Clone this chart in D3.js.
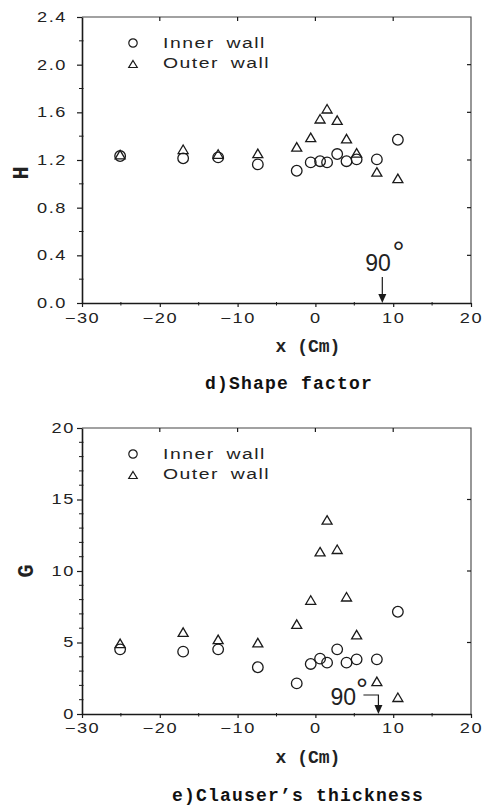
<!DOCTYPE html>
<html>
<head>
<meta charset="utf-8">
<script src="https://cdn.jsdelivr.net/npm/d3@7"></script>
<style>
  body { margin: 0; background: #fff; }
  svg { display: block; }
</style>
</head>
<body>
<svg id="chart" width="484" height="808"></svg>
<script>
// Streamwise stations (cm) shared by both walls
const xPositions = [-25.1, -17.0, -12.5, -7.4, -2.4, -0.6, 0.6, 1.5, 2.8, 4.0, 5.3, 7.9, 10.6];

// d) shape factor H
const shapeInner = [1.233, 1.214, 1.222, 1.163, 1.11, 1.18, 1.19, 1.18, 1.25, 1.19, 1.205, 1.205, 1.37];
const shapeOuter = [1.245, 1.29, 1.25, 1.256, 1.31, 1.39, 1.546, 1.63, 1.535, 1.38, 1.26, 1.10, 1.046];

// e) Clauser's thickness G
const clauserInner = [4.52, 4.36, 4.52, 3.27, 2.14, 3.5, 3.87, 3.59, 4.52, 3.59, 3.82, 3.82, 7.15];
const clauserOuter = [4.94, 5.73, 5.22, 4.99, 6.29, 7.97, 11.35, 13.57, 11.52, 8.2, 5.55, 2.28, 1.17];

// Axis ticks
const xTicks = [-30, -20, -10, 0, 10, 20];
const xMinorTicks = [-25, -15, -5, 5, 15];
const hTicks = [0, 0.4, 0.8, 1.2, 1.6, 2.0, 2.4];
const hMinorTicks = [0.2, 0.6, 1.0, 1.4, 1.8, 2.2];
const gTicks = [0, 5, 10, 15, 20];
const gMinorTicks = [1, 2, 3, 4, 6, 7, 8, 9, 11, 12, 13, 14, 16, 17, 18, 19];

// Texts
const legendLabels = ["Inner wall", "Outer wall"];
const panelTitles = ["d)Shape factor", "e)Clauser\u2019s thickness"];
const yAxisLabels = ["H", "G"];
const xAxisLabel = "x (Cm)";
const bendLabel = "90";
// 90-degree bend location on each panel (cm)
const bendX = [8.6, 8.1];

const svg = d3.select("#chart");
const INK = "#1a1a1a";
const x = d3.scaleLinear().domain([-30, 20]).range([82, 471]);

const triPath = (w, h) => `M0,${-h / 2}L${w / 2},${h / 2}L${-w / 2},${h / 2}Z`;

function drawPanel(p) {
  const y = d3.scaleLinear().domain(p.domain).range([p.bottom, p.top]);
  const g = svg.append("g");
  const [x0, x1] = x.range();

  // frame: top and right edges
  g.append("path")
    .attr("d", `M${x0},${p.top}H${x1}V${p.bottom}`)
    .attr("fill", "none").attr("stroke", "#444").attr("stroke-width", 1.1);

  // left axis
  const left = g.append("g").attr("transform", `translate(${x0},0)`)
    .call(d3.axisLeft(y).tickValues(p.ticks).tickFormat(p.fmt)
      .tickSize(5).tickSizeOuter(0).tickPadding(p.pad));
  // bottom axis
  const bottom = g.append("g").attr("transform", `translate(0,${p.bottom})`)
    .call(d3.axisBottom(x).tickValues(xTicks).tickFormat(d => d < 0 ? "\u2212" + Math.abs(d) : d)
      .tickSize(4).tickSizeOuter(0).tickPadding(p.xpad));

  [left, bottom].forEach(ax => {
    ax.select(".domain").attr("stroke", INK).attr("stroke-width", 1.6);
    ax.selectAll(".tick line").attr("stroke", INK).attr("stroke-width", 1.2);
    ax.selectAll(".tick text")
      .attr("font-family", "'Liberation Sans', Arial, sans-serif")
      .attr("font-size", 14).attr("fill", "#222")
      .attr("letter-spacing", 1.2)
      .attr("transform", "scale(1.3,1)");
  });

  // minor ticks
  g.append("g").selectAll("line").data(p.minor).join("line")
    .attr("x1", x0 - 3).attr("x2", x0 + 1.5)
    .attr("y1", d => y(d)).attr("y2", d => y(d))
    .attr("stroke", INK).attr("stroke-width", 1);
  g.append("g").selectAll("line").data(xMinorTicks).join("line")
    .attr("x1", d => x(d)).attr("x2", d => x(d))
    .attr("y1", p.bottom - 1).attr("y2", p.bottom + 2.5)
    .attr("stroke", INK).attr("stroke-width", 1);
  // inward ticks on right and top edges
  g.append("g").selectAll("line").data(p.ticks.slice(1, -1)).join("line")
    .attr("x1", x1 - 4).attr("x2", x1)
    .attr("y1", d => y(d)).attr("y2", d => y(d))
    .attr("stroke", INK).attr("stroke-width", 1.2);
  g.append("g").selectAll("line").data(xTicks.slice(1, -1)).join("line")
    .attr("x1", d => x(d)).attr("x2", d => x(d))
    .attr("y1", p.top).attr("y2", p.top + 4)
    .attr("stroke", INK).attr("stroke-width", 1.2);

  // data: inner wall circles
  g.append("g").selectAll("circle").data(xPositions.map((d, i) => [d, p.inner[i]])).join("circle")
    .attr("cx", d => x(d[0])).attr("cy", d => y(d[1])).attr("r", 5.3)
    .attr("fill", "none").attr("stroke", INK).attr("stroke-width", 1.3);
  // data: outer wall triangles
  g.append("g").selectAll("path").data(xPositions.map((d, i) => [d, p.outer[i]])).join("path")
    .attr("transform", d => `translate(${x(d[0])},${y(d[1])})`)
    .attr("d", triPath(10, 8.5))
    .attr("fill", "none").attr("stroke", INK).attr("stroke-width", 1.3)
    .attr("stroke-linejoin", "miter");

  // legend
  const lg = g.append("g").attr("transform", `translate(${x0 + 51},${p.top + 26})`);
  lg.append("circle").attr("cx", 0).attr("cy", 0).attr("r", 4.2)
    .attr("fill", "none").attr("stroke", INK).attr("stroke-width", 1.2);
  lg.append("path").attr("transform", "translate(0,21)").attr("d", triPath(8.5, 7))
    .attr("fill", "none").attr("stroke", INK).attr("stroke-width", 1.2);
  lg.selectAll("text").data(legendLabels).join("text")
    .attr("transform", (d, i) => `translate(30,${i * 20 + 5}) scale(1.25,1)`)
    .attr("font-family", "'Liberation Sans', Arial, sans-serif")
    .attr("font-size", 15.5).attr("letter-spacing", 1.2).attr("word-spacing", 4)
    .attr("fill", "#222")
    .text(d => d);

  // 90-degree bend marker
  const bx = x(p.bend);
  const by = y(p.domain[0]);
  g.append("path")
    .attr("d", p.hook ? `M${bx - 15},${by - 19}H${bx}V${by - 8}` : `M${bx},${by - 26}V${by - 8}`)
    .attr("fill", "none").attr("stroke", INK).attr("stroke-width", 1.2);
  g.append("path")
    .attr("d", `M${bx - 4},${by - 9}L${bx + 4},${by - 9}L${bx},${by}Z`)
    .attr("fill", INK);
  const bl = g.append("text")
    .attr("x", bx + p.labelDx).attr("y", by + p.labelDy)
    .attr("font-family", "'Liberation Sans', Arial, sans-serif")
    .attr("font-size", 23).attr("fill", "#222");
  bl.append("tspan").text(bendLabel);
  bl.append("tspan")
    .attr("dx", p.degDx).attr("dy", p.degDy)
    .attr("font-size", 30)
    .text("\u00b0");

  // axis titles
  g.append("text")
    .attr("x", 308).attr("y", p.bottom + 49)
    .attr("text-anchor", "middle")
    .attr("font-family", "'Liberation Mono', 'Courier New', monospace")
    .attr("font-size", 18).attr("font-weight", "bold").attr("fill", "#222")
    .text(xAxisLabel);
  g.append("text")
    .attr("transform", `translate(${p.ylx},${p.yly}) rotate(-90)`)
    .attr("text-anchor", "middle").attr("dy", "0.35em")
    .attr("font-family", "'Liberation Mono', 'Courier New', monospace")
    .attr("font-size", 22).attr("font-weight", "bold").attr("fill", "#222")
    .text(p.ylabel);

  // panel caption
  g.append("text")
    .attr("x", p.titleX).attr("y", p.titleY)
    .attr("text-anchor", "middle")
    .attr("font-family", "'Liberation Mono', 'Courier New', monospace")
    .attr("font-size", 18).attr("font-weight", "bold").attr("letter-spacing", 1.2).attr("fill", "#111")
    .text(p.title);
}

drawPanel({
  domain: [0, 2.4], top: 17, bottom: 303,
  ticks: hTicks, minor: hMinorTicks, fmt: d3.format(".1f"), pad: 6.5, xpad: 6,
  inner: shapeInner, outer: shapeOuter,
  bend: bendX[0], hook: false, labelDx: -17, labelDy: -32, degDx: 1.5, degDy: -9,
  ylabel: yAxisLabels[0], ylx: 20, yly: 173,
  title: panelTitles[0], titleX: 289, titleY: 389
});

drawPanel({
  domain: [0, 20], top: 428, bottom: 714,
  ticks: gTicks, minor: gMinorTicks, fmt: d3.format("d"), pad: 0.5, xpad: 5,
  inner: clauserInner, outer: clauserOuter,
  bend: bendX[1], hook: true, labelDx: -48, labelDy: -9, degDx: 0, degDy: -6,
  ylabel: yAxisLabels[1], ylx: 25, yly: 571,
  title: panelTitles[1], titleX: 298, titleY: 801
});
</script>
</body>
</html>
